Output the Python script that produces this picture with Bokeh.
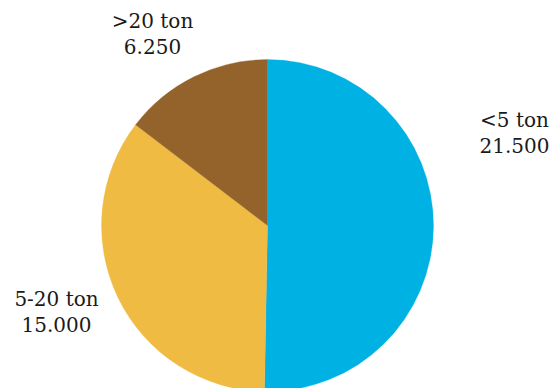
from bokeh.plotting import figure
from bokeh.models import Range1d, ColumnDataSource
from bokeh.core.properties import value
from bokeh.embed import file_html
from bokeh.resources import INLINE
import math

# Tonnage classes and their counts
categories = ["<5 ton", "5-20 ton", ">20 ton"]
counts = [21500, 15000, 6250]
colors = ["#00B2E3", "#EFBB42", "#93632B"]

W, H = 550, 388
CX, CY, R = 267, H - 225, 166

total = sum(counts)
starts, ends = [], []
acc = 0.0
for c in counts:
    a0 = math.pi / 2 - 2 * math.pi * acc / total
    acc += c
    a1 = math.pi / 2 - 2 * math.pi * acc / total
    starts.append(a0)
    ends.append(a1)

src = ColumnDataSource(dict(start=starts, end=ends, color=colors))

p = figure(width=W, height=H, output_backend="svg", toolbar_location=None,
           x_range=Range1d(0, W), y_range=Range1d(0, H),
           min_border=0)
p.axis.visible = False
p.grid.visible = False
p.outline_line_color = None
p.background_fill_color = "white"

p.wedge(x=CX, y=CY, radius=R, start_angle="start", end_angle="end",
        direction="clock", fill_color="color", line_color="color",
        line_width=0.3, source=src)


def fmt(v):
    return f"{v:,}".replace(",", ".")


# label anchors (screen px, top-left origin) for each slice
label_pos = [(514, 119), (56, 298), (152, 20)]
gap = 26
lx = [x for x, _ in label_pos]
ly1 = [H - y for _, y in label_pos]
ly2 = [H - y - gap for _, y in label_pos]

font = value("DejaVu Serif")
p.text(x=lx, y=ly1, text=categories, text_align="center", text_baseline="middle",
       text_font=font, text_font_size="20px", text_color="#1a1a1a")
p.text(x=lx, y=ly2, text=[fmt(c) for c in counts], text_align="center",
       text_baseline="middle", text_font=font,
       text_font_size="20px", text_color="#1a1a1a")

open("out.html", "w").write(file_html(p, INLINE))
